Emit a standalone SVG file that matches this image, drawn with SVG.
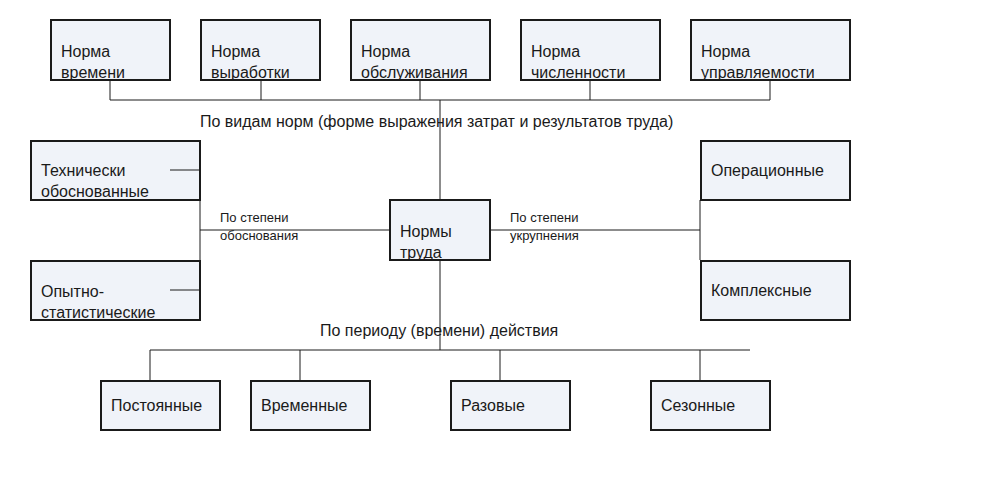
<svg xmlns="http://www.w3.org/2000/svg" width="1000" height="500" viewBox="0 0 1000 500">
<style>
.b{fill:#f0f3f9;stroke:#1a1a1a;stroke-width:2}
.t{font-family:"Liberation Sans",Arial,sans-serif;font-size:16px;fill:#1a1a1a}
.s{font-family:"Liberation Sans",Arial,sans-serif;font-size:13px;fill:#1a1a1a}
.c line{stroke:#1a1a1a;stroke-width:1}
</style>
<rect width="1000" height="500" fill="#fff"/>
<g class="c" id="connectors">
<line x1="110" y1="80" x2="110" y2="100"/><line x1="261" y1="80" x2="261" y2="100"/><line x1="420" y1="80" x2="420" y2="100"/><line x1="590" y1="80" x2="590" y2="100"/><line x1="770" y1="80" x2="770" y2="100"/>
<line x1="110" y1="100" x2="770" y2="100"/>
<line x1="440" y1="100" x2="440" y2="200"/>
<line x1="440" y1="260" x2="440" y2="350"/>
<line x1="150" y1="350" x2="750" y2="350"/>
<line x1="150" y1="350" x2="150" y2="380"/><line x1="300" y1="350" x2="300" y2="380"/><line x1="500" y1="350" x2="500" y2="380"/><line x1="700" y1="350" x2="700" y2="380"/>
<line x1="200" y1="200" x2="200" y2="260"/><line x1="200" y1="230" x2="390" y2="230"/>
<line x1="700" y1="200" x2="700" y2="260"/><line x1="490" y1="230" x2="700" y2="230"/>
</g>
<text class="t" x="200" y="127">По видам норм (форме выражения затрат и результатов труда)</text>
<text class="t" x="320" y="336">По периоду (времени) действия</text>
<text class="s" x="220" y="222">По степени</text><text class="s" x="220" y="240">обоснования</text>
<text class="s" x="510" y="222">По степени</text><text class="s" x="510" y="240">укрупнения</text>
<g id="n1"><rect class="b" x="51" y="20" width="119" height="60"/><text class="t" x="61" y="57">Норма</text><text class="t" x="61" y="78">времени</text></g>
<g id="n2"><rect class="b" x="201" y="20" width="119" height="60"/><text class="t" x="211" y="57">Норма</text><text class="t" x="211" y="78">выработки</text></g>
<g id="n3"><rect class="b" x="351" y="20" width="139" height="60"/><text class="t" x="361" y="57">Норма</text><text class="t" x="361" y="78">обслуживания</text></g>
<g id="n4"><rect class="b" x="521" y="20" width="139" height="60"/><text class="t" x="531" y="57">Норма</text><text class="t" x="531" y="78">численности</text></g>
<g id="n5"><rect class="b" x="691" y="20" width="159" height="60"/><text class="t" x="701" y="57">Норма</text><text class="t" x="701" y="78">управляемости</text></g>
<g id="n6"><rect class="b" x="31" y="141" width="169" height="59"/><line x1="170" y1="170" x2="200" y2="170" stroke="#1a1a1a"/><text class="t" x="41" y="176">Технически</text><text class="t" x="41" y="197">обоснованные</text></g>
<g id="n7"><rect class="b" x="31" y="261" width="169" height="59"/><line x1="170" y1="290" x2="200" y2="290" stroke="#1a1a1a"/><text class="t" x="41" y="297">Опытно-</text><text class="t" x="41" y="318">статистические</text></g>
<g id="n8"><rect class="b" x="390" y="200" width="100" height="60"/><text class="t" x="400" y="237">Нормы</text><text class="t" x="400" y="258">труда</text></g>
<g id="n9"><rect class="b" x="701" y="141" width="149" height="59"/><text class="t" x="711" y="176">Операционные</text></g>
<g id="n10"><rect class="b" x="701" y="261" width="149" height="59"/><text class="t" x="711" y="296">Комплексные</text></g>
<g id="n11"><rect class="b" x="101" y="381" width="119" height="49"/><text class="t" x="111" y="411">Постоянные</text></g>
<g id="n12"><rect class="b" x="251" y="381" width="119" height="49"/><text class="t" x="261" y="411">Временные</text></g>
<g id="n13"><rect class="b" x="451" y="381" width="119" height="49"/><text class="t" x="461" y="411">Разовые</text></g>
<g id="n14"><rect class="b" x="651" y="381" width="119" height="49"/><text class="t" x="661" y="411">Сезонные</text></g>
</svg>
